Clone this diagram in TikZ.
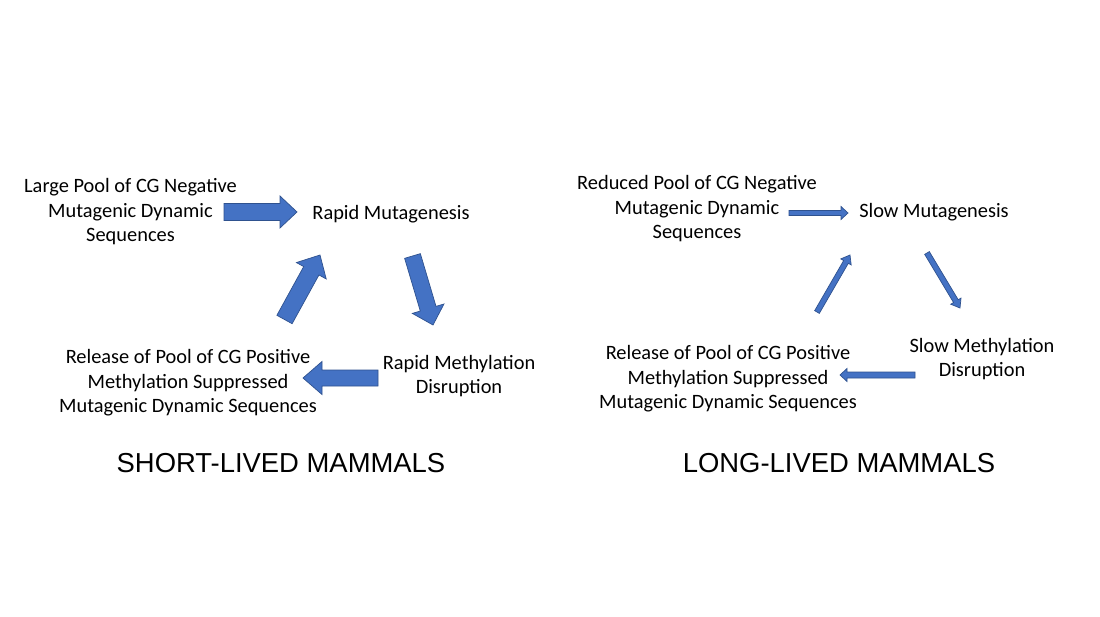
\documentclass[tikz,border=0pt]{standalone}
\usepackage{fontspec}
\setmainfont{Carlito}
\newfontfamily\titlefont{Liberation Sans}
\usetikzlibrary{calc}
\definecolor{arrowfill}{HTML}{4472C4}
\definecolor{arrowline}{HTML}{2F528F}
\tikzset{
  lbl/.style={align=center, inner sep=0pt, font=\fontsize{14.5}{17.4}\selectfont},
  ttl/.style={inner sep=0pt, anchor=base, font=\titlefont\fontsize{19.5}{23}\selectfont},
  blockarr/.style={fill=arrowfill, draw=arrowline, line width=0.5pt, line join=miter},
}
% \barrow{from}{to}{shaft half}{head half}{head length}  (pixel units)
\newcommand\barrow[5]{%
  \draw[blockarr]
    ($(#1)!{#3*0.025cm}!90:(#2)$) --
    ($($(#2)!{#5*0.025cm}!(#1)$)!{#3*0.025cm}!90:(#2)$) --
    ($($(#2)!{#5*0.025cm}!(#1)$)!{#4*0.025cm}!90:(#2)$) --
    (#2) --
    ($($(#2)!{#5*0.025cm}!(#1)$)!{#4*0.025cm}!-90:(#2)$) --
    ($($(#2)!{#5*0.025cm}!(#1)$)!{#3*0.025cm}!-90:(#2)$) --
    ($(#1)!{#3*0.025cm}!-90:(#2)$) -- cycle;}
\begin{document}
\begin{tikzpicture}[x=0.025cm, y=-0.025cm]
\path[fill=white] (0,0) rectangle (1100,617);
\useasboundingbox (0,0) rectangle (1100,617);

% ---------- left: short-lived ----------
\node[lbl] (lpool) at (130.5,212) {Large Pool of CG Negative\\Mutagenic Dynamic\\Sequences};
\node[lbl] (lmut) at (391,214) {Rapid Mutagenesis};
\node[lbl] (lmeth) at (459,376) {Rapid Methylation\\Disruption};
\node[lbl] (lrel) at (188,383) {Release of Pool of CG Positive\\Methylation Suppressed\\Mutagenic Dynamic Sequences};
\node[ttl] (ltitle) at (281,472) {SHORT-LIVED MAMMALS};

\coordinate (a1s) at (224,212);   \coordinate (a1e) at (297,212);
\coordinate (a2s) at (284.5,319.5); \coordinate (a2e) at (320,255);
\coordinate (a3s) at (412.5,256); \coordinate (a3e) at (433,325);
\coordinate (a4s) at (378,378);   \coordinate (a4e) at (303,378);
\barrow{a1s}{a1e}{8.5}{16}{17}
\barrow{a2s}{a2e}{8.7}{17}{18}
\barrow{a3s}{a3e}{8.2}{16.5}{17}
\barrow{a4s}{a4e}{8}{16.5}{19}

% ---------- right: long-lived ----------
\node[lbl] (rpool) at (697,209) {Reduced Pool of CG Negative\\Mutagenic Dynamic\\Sequences};
\node[lbl] (rmut) at (934,212) {Slow Mutagenesis};
\node[lbl] (rmeth) at (982,359) {Slow Methylation\\Disruption};
\node[lbl] (rrel) at (728,379) {Release of Pool of CG Positive\\Methylation Suppressed\\Mutagenic Dynamic Sequences};
\node[ttl] (rtitle) at (839,472) {LONG-LIVED MAMMALS};

\coordinate (b1s) at (789,213);   \coordinate (b1e) at (848,213);
\coordinate (b2s) at (817,312);   \coordinate (b2e) at (850,255);
\coordinate (b3s) at (927,253);   \coordinate (b3e) at (960,308);
\coordinate (b4s) at (915,375);   \coordinate (b4e) at (840,375);
\barrow{b1s}{b1e}{2.6}{6.5}{7}
\barrow{b2s}{b2e}{2.7}{6}{8}
\barrow{b3s}{b3e}{2.7}{6}{8}
\barrow{b4s}{b4e}{3}{6.5}{7}
\end{tikzpicture}
\end{document}
